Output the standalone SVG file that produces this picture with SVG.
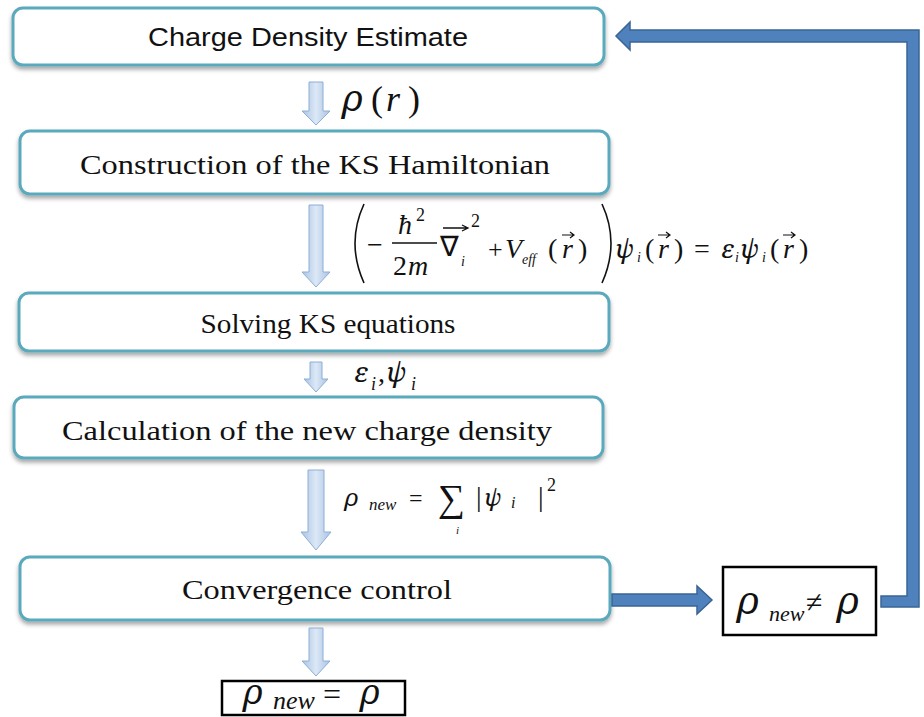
<svg xmlns="http://www.w3.org/2000/svg" width="924" height="717" viewBox="0 0 924 717">
<defs>
<filter id="sh" x="-5%" y="-20%" width="110%" height="150%">
<feDropShadow dx="0" dy="3" stdDeviation="2" flood-color="#000" flood-opacity="0.35"/>
</filter>
<linearGradient id="ag" x1="0" y1="0" x2="1" y2="0">
<stop offset="0" stop-color="#a9c3e3"/>
<stop offset="0.5" stop-color="#dce8f6"/>
<stop offset="1" stop-color="#a9c3e3"/>
</linearGradient>
<style>
.box{fill:#fff;stroke:#5aa9bd;stroke-width:3;filter:url(#sh)}
.lbl{font-family:'Liberation Serif',serif;font-size:27px;fill:#111;text-anchor:middle}
.sans{font-family:'Liberation Sans',sans-serif;font-size:26px;fill:#111;text-anchor:middle}
.dn{fill:url(#ag);stroke:#8eaed6;stroke-width:1}
.big{fill:#4f81bd;stroke:#3a6496;stroke-width:1.5}
.res{fill:#fff;stroke:#000;stroke-width:2.5}
</style>
</defs>

<g id="n1">
<rect class="box" x="13" y="8" width="591" height="57" rx="10"/>
<text class="sans" x="308" y="46" textLength="320" lengthAdjust="spacingAndGlyphs">Charge Density Estimate</text>
</g>
<g id="n2">
<rect class="box" x="20" y="131" width="589" height="63" rx="10"/>
<text class="lbl" x="315" y="174" textLength="470" lengthAdjust="spacingAndGlyphs">Construction of the KS Hamiltonian</text>
</g>
<g id="n3">
<rect class="box" x="19" y="293" width="590" height="58" rx="10"/>
<text class="lbl" x="328" y="333" textLength="255" lengthAdjust="spacingAndGlyphs">Solving KS equations</text>
</g>
<g id="n4">
<rect class="box" x="14" y="397" width="589" height="61" rx="10"/>
<text class="lbl" x="307" y="440" textLength="490" lengthAdjust="spacingAndGlyphs">Calculation of the new charge density</text>
</g>
<g id="n5">
<rect class="box" x="20" y="557" width="590" height="63" rx="10"/>
<text class="lbl" x="317" y="599" textLength="270" lengthAdjust="spacingAndGlyphs">Convergence control</text>
</g>
<g id="n6" fill="#111">
<rect class="res" x="723" y="567" width="153" height="68"/>
<text x="738" y="614" font-family="Noto Serif" font-style="italic" font-size="38">ρ</text>
<text x="769" y="621" font-family="Liberation Serif" font-style="italic" font-size="22">new</text>
<text x="806" y="612" font-family="Liberation Serif" font-size="30">≠</text>
<text x="838" y="614" font-family="Noto Serif" font-style="italic" font-size="38">ρ</text>
</g>
<g id="n7" fill="#111">
<rect class="res" x="222" y="681" width="183" height="34"/>
<text x="244" y="704" font-family="Noto Serif" font-style="italic" font-size="34">ρ</text>
<text x="273" y="709" font-family="Liberation Serif" font-style="italic" font-size="26">new</text>
<text x="323" y="705" font-family="Liberation Serif" font-size="32">=</text>
<text x="361" y="704" font-family="Noto Serif" font-style="italic" font-size="34">ρ</text>
</g>

<g id="connectors">
<path class="dn" d="M309,82 H323 V111 H330 L316,125 L302,111 H309 Z"/>
<path class="dn" d="M309,205 H323 V272 H330 L316,287 L302,272 H309 Z"/>
<path class="dn" d="M310,362 H322 V379 H328 L316,392 L304,379 H310 Z"/>
<path class="dn" d="M308,470 H324 V532 H331 L316,550 L301,532 H308 Z"/>
<path class="dn" d="M309,628 H323 V661 H330 L316,676 L302,661 H309 Z"/>
<path class="big" d="M612,594 H697 V586 L712,600 L697,614 V606 H612 Z"/>
<path class="big" d="M881,596 H907 V42 H630 V50 L616,36 L630,22 V30 H919 V607 H881 Z"/>
</g>

<g id="labels" fill="#111" font-family="Liberation Serif">
<g font-family="Noto Serif" font-style="italic">
<text x="343" y="111" font-size="36">ρ</text>
<text x="615" y="258" font-size="26">ψ</text>
<text x="721" y="258" font-size="26">ε</text>
<text x="740" y="258" font-size="26">ψ</text>
<text x="354" y="382" font-size="28">ε</text>
<text x="386" y="382" font-size="28">ψ</text>
<text x="345" y="506" font-size="24">ρ</text>
<text x="484" y="506" font-size="24">ψ</text>
</g>
<g font-style="italic">
<text x="386" y="111" font-size="36">r</text>
<text x="398" y="234" font-size="28">ħ</text>
<text x="408" y="275" font-size="28">m</text>
<text x="461" y="266" font-size="14">i</text>
<text x="505" y="258" font-size="28">V</text>
<text x="522" y="264" font-size="14">eff</text>
<text x="562" y="258" font-size="28">r</text>
<text x="637" y="262" font-size="14">i</text>
<text x="658" y="258" font-size="28">r</text>
<text x="735" y="262" font-size="14">i</text>
<text x="762" y="262" font-size="14">i</text>
<text x="783" y="258" font-size="28">r</text>
<text x="371" y="390" font-size="18">i</text>
<text x="411" y="390" font-size="18">i</text>
<text x="369" y="510" font-size="17">new</text>
<text x="456" y="534" font-size="11">i</text>
<text x="511" y="508" font-size="16">i</text>
</g>
<g>
<text x="371" y="111" font-size="36">(</text>
<text x="408" y="111" font-size="36">)</text>
<text x="367" y="254" font-size="28">−</text>
<text x="416" y="221" font-size="18">2</text>
<text x="393" y="275" font-size="28">2</text>
<text x="440" y="256" font-size="28">∇</text>
<text x="471" y="227" font-size="18">2</text>
<text x="488" y="258" font-size="26">+</text>
<text x="548" y="258" font-size="28">(</text>
<text x="578" y="258" font-size="28">)</text>
<text x="645" y="258" font-size="28">(</text>
<text x="674" y="258" font-size="28">)</text>
<text x="694" y="258" font-size="28">=</text>
<text x="770" y="258" font-size="28">(</text>
<text x="799" y="258" font-size="28">)</text>
<text x="378" y="382" font-size="28">,</text>
<text x="409" y="506" font-size="24">=</text>
<text x="438" y="511" font-size="38">∑</text>
<text x="476" y="506" font-size="28">|</text>
<text x="538" y="506" font-size="28">|</text>
<text x="547" y="491" font-size="18">2</text>
</g>
<g fill="none" stroke="#111">
<path d="M364,204 Q346,243 364,283" stroke-width="1.6"/>
<path d="M602,204 Q620,243 602,283" stroke-width="1.6"/>
<line x1="392" y1="243" x2="437" y2="243" stroke-width="1.5"/>
<path d="M443,228 H467 M462,225 L468,228 L462,231" stroke-width="1.3"/>
<path d="M562,235 L574,235 M570,232 L574,235 L570,238" stroke-width="1.2"/>
<path d="M658,235 L670,235 M666,232 L670,235 L666,238" stroke-width="1.2"/>
<path d="M783,235 L795,235 M791,232 L795,235 L791,238" stroke-width="1.2"/>
</g>
</g>
</svg>
